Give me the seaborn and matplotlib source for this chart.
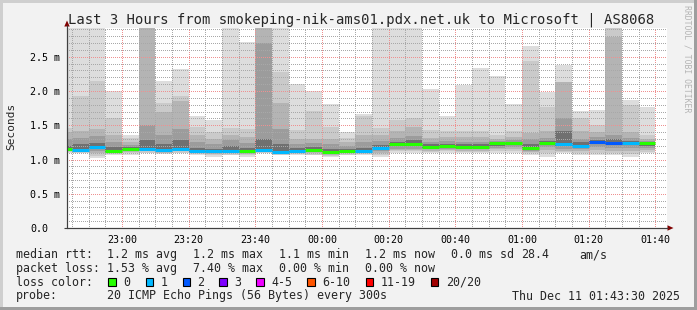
import numpy as np
import pandas as pd
import matplotlib
matplotlib.use("Agg")
import matplotlib.pyplot as plt
import seaborn as sns
from matplotlib.patches import Rectangle, Polygon
from matplotlib.lines import Line2D
from matplotlib.ticker import MultipleLocator, FixedLocator

# ---------------- data (ms) ----------------
bar_end = ["22:45", "22:50", "22:55", "23:00", "23:05", "23:10", "23:15", "23:20", "23:25",
           "23:30", "23:35", "23:40", "23:45", "23:50", "23:55", "00:00", "00:05", "00:10",
           "00:15", "00:20", "00:25", "00:30", "00:35", "00:40", "00:45", "00:50", "00:55",
           "01:00", "01:05", "01:10", "01:15", "01:20", "01:25", "01:30", "01:35", "01:40"]

# smoke envelope, outer (lightest) to inner (darkest); upper edges
hi1 = [3.5, 3.5, 3.5, 2.00, 1.36, 3.5, 2.15, 2.32, 1.64, 1.58, 3.5, 2.71, 3.5, 3.5, 2.10, 2.00, 1.81, 1.40,
       1.66, 3.5, 3.5, 3.5, 2.03, 1.64, 2.09, 2.34, 2.22, 1.81, 2.65, 1.99, 2.38, 1.71, 1.72, 3.5, 1.87, 1.77]
hi2 = [1.46, 1.92, 2.15, 1.60, 1.32, 3.5, 1.82, 1.92, 1.47, 1.40, 1.465, 1.445, 3.5, 2.28, 1.43, 1.71, 1.48, 1.32,
       1.64, 1.465, 1.577, 1.61, 1.43, 1.41, 1.415, 1.415, 1.36, 1.415, 2.44, 1.77, 2.13, 1.60, 1.50, 3.5, 1.80, 1.36]
hi3 = [1.40, 1.41, 1.45, 1.36, 1.26, 3.5, 1.70, 1.85, 1.36, 1.30, 1.36, 1.33, 3.5, 1.82, 1.30, 1.30, 1.30, 1.25,
       1.36, 1.36, 1.41, 1.47, 1.32, 1.33, 1.33, 1.33, 1.30, 1.33, 1.39, 1.42, 2.13, 1.42, 1.40, 2.79, 1.40, 1.30]
hi4 = [1.30, 1.32, 1.34, 1.25, 1.21, 1.50, 1.36, 1.45, 1.25, 1.22, 1.28, 1.24, 2.70, 1.45, 1.22, 1.24, 1.22, 1.19,
       1.25, 1.27, 1.31, 1.35, 1.26, 1.27, 1.26, 1.26, 1.27, 1.28, 1.30, 1.31, 1.61, 1.30, 1.33, 1.36, 1.31, 1.27]
hi5 = [1.20, 1.22, 1.24, 1.18, 1.18, 1.28, 1.22, 1.28, 1.17, 1.16, 1.20, 1.17, 1.30, 1.22, 1.17, 1.18, 1.15, 1.15,
       1.17, 1.21, 1.26, 1.28, 1.22, 1.23, 1.22, 1.22, 1.25, 1.26, 1.22, 1.27, 1.42, 1.25, 1.29, 1.30, 1.27, 1.25]
median = [1.155, 1.143, 1.180, 1.124, 1.157, 1.157, 1.143, 1.157, 1.124, 1.124, 1.124, 1.124, 1.143, 1.114,
          1.128, 1.143, 1.114, 1.124, 1.124, 1.170, 1.220, 1.220, 1.187, 1.200, 1.185, 1.185, 1.237, 1.237,
          1.170, 1.237, 1.220, 1.200, 1.260, 1.245, 1.237, 1.235]
# lower edges
lo5 = [1.14, 1.13, 1.15, 1.11, 1.14, 1.14, 1.13, 1.14, 1.11, 1.11, 1.11, 1.11, 1.13, 1.10, 1.11, 1.13, 1.10, 1.11,
       1.11, 1.15, 1.19, 1.19, 1.17, 1.18, 1.17, 1.17, 1.20, 1.21, 1.15, 1.21, 1.19, 1.18, 1.22, 1.21, 1.21, 1.20]
lo4 = [1.13, 1.12, 1.12, 1.10, 1.13, 1.13, 1.12, 1.13, 1.10, 1.10, 1.10, 1.10, 1.12, 1.09, 1.10, 1.11, 1.09, 1.10,
       1.10, 1.13, 1.16, 1.16, 1.15, 1.16, 1.15, 1.15, 1.17, 1.18, 1.13, 1.18, 1.16, 1.15, 1.18, 1.17, 1.17, 1.17]
lo3 = [1.12, 1.11, 1.09, 1.09, 1.11, 1.12, 1.10, 1.12, 1.09, 1.08, 1.09, 1.08, 1.11, 1.08, 1.09, 1.09, 1.07, 1.09,
       1.09, 1.10, 1.14, 1.14, 1.13, 1.14, 1.13, 1.13, 1.15, 1.15, 1.11, 1.14, 1.13, 1.12, 1.14, 1.13, 1.13, 1.14]
lo2 = [1.11, 1.10, 1.05, 1.08, 1.09, 1.10, 1.09, 1.10, 1.08, 1.06, 1.07, 1.06, 1.10, 1.07, 1.08, 1.07, 1.05, 1.07,
       1.08, 1.06, 1.12, 1.12, 1.11, 1.12, 1.11, 1.11, 1.12, 1.12, 1.09, 1.09, 1.11, 1.10, 1.10, 1.10, 1.08, 1.11]
lo1 = [1.10, 1.09, 1.02, 1.06, 1.07, 1.09, 1.08, 1.09, 1.07, 1.04, 1.06, 1.03, 1.09, 1.06, 1.07, 1.06, 1.04, 1.06,
       1.07, 1.03, 1.10, 1.10, 1.09, 1.10, 1.09, 1.09, 1.09, 1.10, 1.07, 1.04, 1.09, 1.07, 1.07, 1.07, 1.04, 1.09]
lost = [0, 1, 1, 0, 0, 1, 1, 1, 1, 1, 1, 0, 1, 1, 1, 0, 0, 0, 1, 1, 0, 0, 0, 0, 0, 0, 0, 0, 0, 0, 1, 1, 2, 2, 1, 0]

loss_labels = ["0", "1", "2", "3", "4-5", "6-10", "11-19", "20/20"]
loss_colors = ["#26ff00", "#00b8ff", "#0059ff", "#7e00ff", "#ee00ff", "#ff5500", "#ff0000", "#a10000"]
xtick_labels = ["23:00", "23:20", "23:40", "00:00", "00:20", "00:40", "01:00", "01:20", "01:40"]
ytick_values = [0.0, 0.5, 1.0, 1.5, 2.0, 2.5]
ytick_labels = ["0.0", "0.5 m", "1.0 m", "1.5 m", "2.0 m", "2.5 m"]
rtt_stats = ["1.2 ms avg", "1.2 ms max", "1.1 ms min", "1.2 ms now", "0.0 ms sd", "28.4", "am/s"]
loss_stats = ["1.53 % avg", "7.40 % max", "0.00 % min", "0.00 % now"]
title = "Last 3 Hours from smokeping-nik-ams01.pdx.net.uk to Microsoft | AS8068"
probe_text = "20 ICMP Echo Pings (56 Bytes) every 300s"
stamp_text = "Thu Dec 11 01:43:30 2025"

# ---------------- helpers ----------------
def to_min(s):
    h, m = map(int, s.split(":"))
    if h < 12:
        h += 24
    return (h - 22) * 60 + m

ends = np.array([to_min(s) for s in bar_end], dtype=float)
starts = ends - 5.0

sns.set_style("white")
plt.rcParams["font.family"] = ["DejaVu Sans Mono", "DejaVu Sans"]
plt.rcParams["lines.solid_capstyle"] = "butt"

W, H = 697, 310
def fx(x): return x / W
def fy(y): return 1 - y / H

fig = plt.figure(figsize=(6.97, 3.10), dpi=100, facecolor="#f2f2f2")
ax = fig.add_axes([fx(67), fy(228), 600 / W, 200 / H])
ax.set_facecolor("white")

layers = [(lo1, hi1, "#dddddd"), (lo2, hi2, "#cacaca"), (lo3, hi3, "#b4b4b4"),
          (lo4, hi4, "#9c9c9c"), (lo5, hi5, "#707070")]
for k, (lo, hi, col) in enumerate(layers):
    lo = np.array(lo); hi = np.array(hi)
    ax.bar(starts, hi - lo, bottom=lo, width=5.0, align="edge", color=col,
           linewidth=0, zorder=1 + 0.1 * k)

# median line via seaborn
rows = []
for i in range(len(bar_end)):
    for t in (starts[i], ends[i]):
        rows.append({"t": t, "ms": median[i], "bar": i, "loss": loss_labels[lost[i]]})
df = pd.DataFrame(rows)
pal = {l: c for l, c in zip(loss_labels, loss_colors)}
sns.lineplot(data=df, x="t", y="ms", hue="loss", units="bar", estimator=None,
             palette=pal, linewidth=2.2, legend=False, ax=ax, zorder=4)

ax.set_xlim(43.5, 223.5)
ax.set_ylim(0, 200 / 68.5)
ax.set_xlabel(""); ax.set_ylabel("")

ax.xaxis.set_major_locator(FixedLocator([to_min(s) for s in xtick_labels]))
ax.set_xticklabels(xtick_labels)
ax.xaxis.set_minor_locator(MultipleLocator(5))
ax.yaxis.set_major_locator(FixedLocator(ytick_values))
ax.set_yticklabels(ytick_labels)
ax.yaxis.set_minor_locator(MultipleLocator(0.1))

ax.set_axisbelow(False)
ax.grid(which="minor", color="#a8a8a8", linestyle=(0, (1, 1.6)), linewidth=0.72, antialiased=False)
ax.grid(which="major", color="#ee9090", linestyle=(0, (1, 1.6)), linewidth=0.72, antialiased=False)

for s in ("top", "right"):
    ax.spines[s].set_visible(False)
for s in ("left", "bottom"):
    ax.spines[s].set_color("#404040")
    ax.spines[s].set_linewidth(0.8)

ax.tick_params(axis="x", which="both", direction="out", length=2.2, width=0.72,
               color="#404040", labelsize=7.2, pad=2.5, labelcolor="black")
ax.tick_params(axis="y", which="major", direction="out", length=3.6, width=0.72,
               color="#404040", labelsize=7.2, pad=23.0, labelcolor="black")
ax.tick_params(axis="y", which="minor", length=0)
for lbl in ax.get_yticklabels():
    lbl.set_horizontalalignment("left")

# axis extensions and arrows
fig.add_artist(Line2D([fx(67), fx(67)], [fy(228), fy(25)], color="#404040", lw=0.8))
fig.add_artist(Line2D([fx(64), fx(668)], [fy(228), fy(228)], color="#404040", lw=0.8))
fig.add_artist(Polygon([(fx(67), fy(20.5)), (fx(64.3), fy(26.5)), (fx(69.7), fy(26.5))],
                       closed=True, color="#800000", lw=0))
fig.add_artist(Polygon([(fx(673.5), fy(228)), (fx(667.5), fy(225.3)), (fx(667.5), fy(230.7))],
                       closed=True, color="#800000", lw=0))

# frame shading
fig.add_artist(Rectangle((0, fy(3)), 1, 3 / H, transform=fig.transFigure, color="#cfcfcf", lw=0))
fig.add_artist(Rectangle((0, 0), 3 / W, 1, transform=fig.transFigure, color="#cfcfcf", lw=0))
fig.add_artist(Rectangle((0, 0), 1, 3 / H, transform=fig.transFigure, color="#9e9e9e", lw=0))
fig.add_artist(Rectangle((fx(694), 0), 3 / W, 1, transform=fig.transFigure, color="#9e9e9e", lw=0))

# texts
fig.text(fx(68), fy(23.3), title, ha="left", va="baseline", fontsize=10)
fig.text(fx(11), fy(126.7), "Seconds", rotation=90, ha="center", va="center", fontsize=8)
fig.text(fx(687.5), fy(59), "RRDTOOL / TOBI OETIKER", rotation=270, ha="center", va="center",
         fontsize=5.9, color="#b4b4b4")

LF = 8.4
base = [258.3, 271.9, 285.6, 299.5]
fig.text(fx(16), fy(base[0]), "median rtt:", fontsize=LF, va="baseline")
for xp, s in zip([107, 193, 279, 365, 451, 521, 579], rtt_stats):
    fig.text(fx(xp), fy(base[0]), s, fontsize=LF, va="baseline")
fig.text(fx(16), fy(base[1]), "packet loss:", fontsize=LF, va="baseline")
for xp, s in zip([107, 193, 279, 365], loss_stats):
    fig.text(fx(xp), fy(base[1]), s, fontsize=LF, va="baseline")
fig.text(fx(16), fy(base[2]), "loss color:", fontsize=LF, va="baseline")
box_x = [108.3, 145.7, 182.7, 219.3, 256.3, 307.3, 365.7, 430.7]
txt_x = [123.3, 160.7, 197.3, 234.3, 271.0, 322.0, 380.7, 446.0]
for bx, tx, lab, col in zip(box_x, txt_x, loss_labels, loss_colors):
    fig.add_artist(Rectangle((fx(bx), fy(286.0)), 7.4 / W, 7.6 / H, transform=fig.transFigure,
                             facecolor=col, edgecolor="black", lw=0.8))
    fig.text(fx(tx), fy(base[2]), lab, fontsize=LF, va="baseline")
fig.text(fx(16), fy(base[3]), "probe:", fontsize=LF, va="baseline")
fig.text(fx(107), fy(base[3]), probe_text, fontsize=LF, va="baseline")
fig.text(fx(680), fy(base[3]), stamp_text, fontsize=LF, va="baseline", ha="right")

fig.savefig("out.png", dpi=100, facecolor=fig.get_facecolor())
